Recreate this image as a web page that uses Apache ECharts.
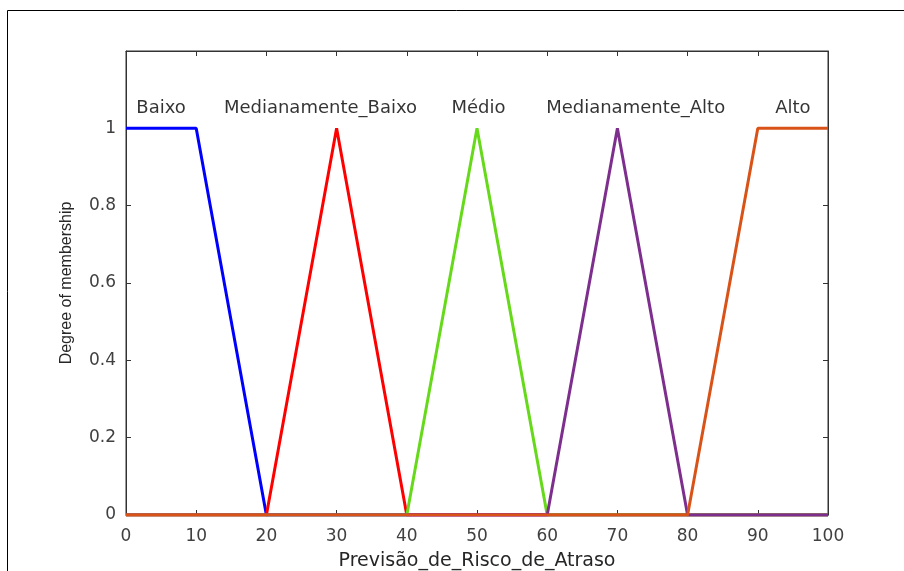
<!DOCTYPE html>
<html>
<head>
<meta charset="utf-8">
<script src="https://cdn.jsdelivr.net/npm/echarts@6/dist/echarts.min.js"></script>
<style>
  html, body { margin: 0; padding: 0; background: #fff; }
  #main { width: 904px; height: 571px; }
</style>
</head>
<body>
<div id="main"></div>
<script>
// funções de pertinência (x, grau)
var baixo = [[0, 1], [10, 1], [20, 0], [100, 0]];
var medBaixo = [[0, 0], [20, 0], [30, 1], [40, 0], [100, 0]];
var medio = [[0, 0], [40, 0], [50, 1], [60, 0], [100, 0]];
var medAlto = [[0, 0], [60, 0], [70, 1], [80, 0], [100, 0]];
var alto = [[0, 0], [80, 0], [90, 1], [100, 1]];
// rótulos sobre cada função
var mfNames = ['Baixo', 'Medianamente_Baixo', 'Médio', 'Medianamente_Alto', 'Alto'];
var mfLabelX = [5, 27.7, 50.2, 72.6, 95];
var mfLabelY = 1.052;
var colors = ['#0000ff', '#ff0000', '#66d91a', '#7e2f8e', '#d95319'];
var yTicks = [0, 0.2, 0.4, 0.6, 0.8, 1];

var myChart = echarts.init(document.getElementById('main'));

var labelData = [];
for (var i = 0; i < mfNames.length; i++) {
    labelData.push([mfLabelX[i], mfLabelY, mfNames[i]]);
}

function mfSeries(name, data, color) {
    return {
        name: name,
        type: 'line',
        data: data,
        symbol: 'none',
        silent: true,
        lineStyle: { color: color, width: 3 },
        z: 3
    };
}

var axisCol = '#333';
var option = {
    animation: false,
    graphic: [{
        type: 'rect',
        shape: { x: 7.5, y: 10.5, width: 1000, height: 1000 },
        style: { fill: 'none', stroke: '#000', lineWidth: 1 },
        z: -1
    }],
    grid: {
        left: 126, right: 76, top: 51, bottom: 56,
        outerBoundsMode: 'none',
        containLabel: false,
        show: true, borderColor: axisCol, borderWidth: 1
    },
    xAxis: [{
        type: 'value',
        min: 0, max: 100, interval: 10,
        name: 'Previsão_de_Risco_de_Atraso',
        nameLocation: 'middle',
        nameGap: 37,
        nameTextStyle: { fontFamily: 'DejaVu Sans', fontSize: 19, color: '#262626' },
        axisLine: { show: true, onZero: false, lineStyle: { color: axisCol } },
        axisTick: { show: true, inside: true, length: 5, lineStyle: { color: axisCol } },
        axisLabel: { fontFamily: 'DejaVu Sans', fontSize: 17, color: '#404040', margin: 13 },
        splitLine: { show: false }
    }, {
        type: 'value', position: 'top',
        min: 0, max: 100, interval: 10,
        axisLine: { show: true, onZero: false, lineStyle: { color: axisCol } },
        axisTick: { show: true, inside: true, length: 5, lineStyle: { color: axisCol } },
        axisLabel: { show: false },
        splitLine: { show: false }
    }],
    yAxis: [{
        type: 'value',
        min: 0, max: 1.2, interval: 0.2,
        name: 'Degree of membership',
        nameLocation: 'middle',
        nameGap: 51,
        nameTextStyle: { fontFamily: 'Liberation Sans', fontSize: 16, color: '#262626' },
        axisLine: { show: true, onZero: false, lineStyle: { color: axisCol } },
        axisTick: { show: true, inside: true, length: 5, lineStyle: { color: axisCol } },
        axisLabel: {
            fontFamily: 'DejaVu Sans', fontSize: 17, color: '#404040', margin: 10,
            formatter: function (v) {
                var r = Math.round(v * 10) / 10;
                return yTicks.indexOf(r) >= 0 ? String(r) : '';
            }
        },
        splitLine: { show: false }
    }, {
        type: 'value', position: 'right',
        min: 0, max: 1.2, interval: 0.2,
        axisLine: { show: true, onZero: false, lineStyle: { color: axisCol } },
        axisTick: { show: true, inside: true, length: 5, lineStyle: { color: axisCol } },
        axisLabel: { show: false },
        splitLine: { show: false }
    }],
    series: [
        mfSeries(mfNames[0], baixo, colors[0]),
        mfSeries(mfNames[1], medBaixo, colors[1]),
        mfSeries(mfNames[2], medio, colors[2]),
        mfSeries(mfNames[3], medAlto, colors[3]),
        mfSeries(mfNames[4], alto, colors[4]),
        {
            type: 'scatter',
            data: labelData,
            symbolSize: 0,
            silent: true,
            label: {
                show: true,
                position: 'inside',
                formatter: function (p) { return p.value[2]; },
                fontFamily: 'DejaVu Sans',
                fontSize: 18,
                color: '#000'
            }
        }
    ]
};
myChart.setOption(option);
</script>
</body>
</html>
